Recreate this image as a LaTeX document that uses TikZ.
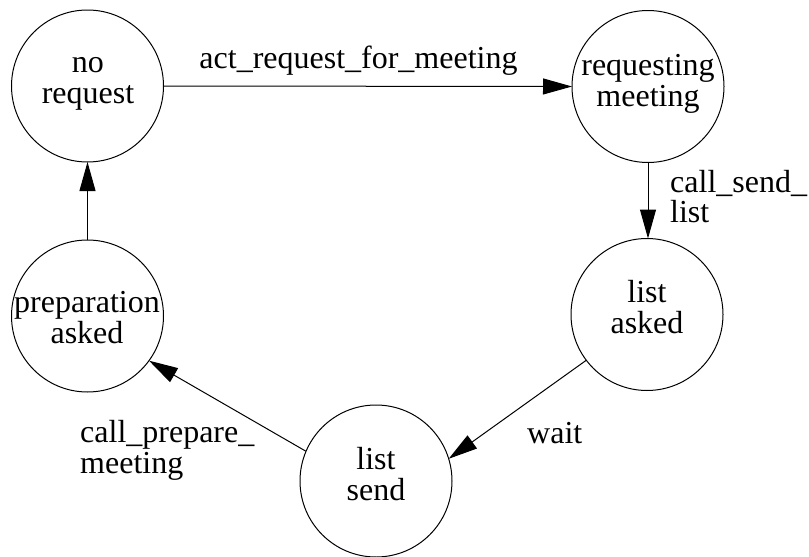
\documentclass[tikz,border=0pt]{standalone}
\usepackage{fontspec}
\setmainfont{Liberation Serif}
\usetikzlibrary{arrows.meta}
\tikzset{
  state/.style={draw, circle, line width=1pt, minimum size=152pt, inner sep=0pt, outer sep=0pt},
  statetext/.style={align=center, inner sep=0pt, anchor=base, font=\fontsize{32}{30.5}\selectfont},
  lbl/.style={align=left, inner sep=0pt, font=\fontsize{32}{30.5}\selectfont},
  conn/.style={line width=1pt, -{Triangle[length=29pt,width=16pt]}}
}
\begin{document}
\begin{tikzpicture}[x=1pt,y=-1pt]
\useasboundingbox (0,0) rectangle (809,557);
\node[state] (nr) at (87.5,86) {};
\node[state] (rm) at (648,86.5) {};
\node[state] (la) at (647,314.5) {};
\node[state] (ls) at (376,481) {};
\node[state] (pa) at (87.5,316) {};
\node[statetext] (nrt) at (88,103.3) {no\\request};
\node[statetext] (rmt) at (648,106) {requesting\\meeting};
\node[statetext] (lat) at (647,333.3) {list\\asked};
\node[statetext] (lst) at (376,500) {list\\send};
\node[statetext] (pat) at (87,343) {preparation\\asked};
\draw[conn] (nr.east) -- (rm.west);
\draw[conn] (rm.south) -- (rm.south |- la.north);
\draw[conn] (la.217) -- (ls.17.7);
\draw[conn] (ls.157.6) -- (pa.-36.4);
\draw[conn] (pa.north) -- (nr.south);
\node[lbl, anchor=base] (l1) at (358.5,68) {act\_request\_for\_meeting};
\node[lbl, anchor=base west] (l2) at (670,222.7) {call\_send\_\\list};
\node[lbl, anchor=base west] (l3) at (527,443) {wait};
\node[lbl, anchor=base west] (l4) at (80,473) {call\_prepare\_\\meeting};
\end{tikzpicture}
\end{document}
